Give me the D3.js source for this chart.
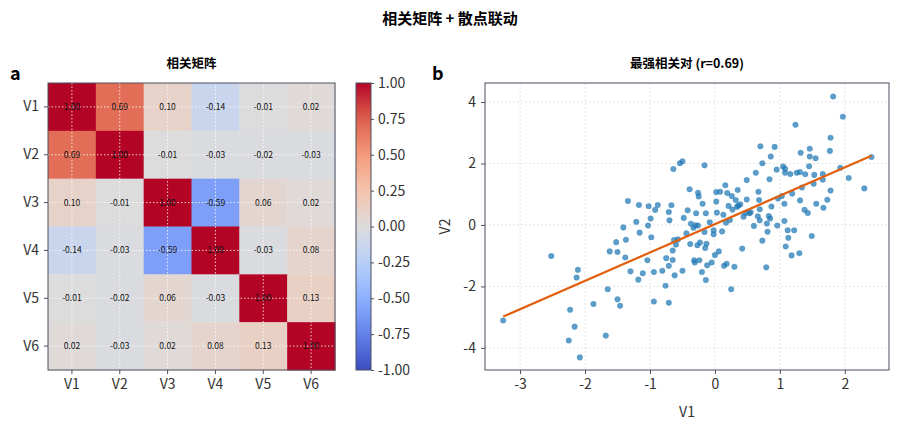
<!DOCTYPE html>
<html lang="zh">
<head>
<meta charset="utf-8">
<script src="https://d3js.org/d3.v7.min.js"></script>
<style>
  body { margin: 0; background: #fff; }
  text { font-family: "Noto Sans CJK SC", "Noto Sans", sans-serif; }
</style>
</head>
<body>
<svg id="chart" width="900" height="429"></svg>
<script>
  // correlation matrix
  var vars = ["V1", "V2", "V3", "V4", "V5", "V6"];
  var corr = [
    [1.00, 0.69, 0.10, -0.14, -0.01, 0.02],
    [0.69, 1.00, -0.01, -0.03, -0.02, -0.03],
    [0.10, -0.01, 1.00, -0.59, 0.06, 0.02],
    [-0.14, -0.03, -0.59, 1.00, -0.03, 0.08],
    [-0.01, -0.02, 0.06, -0.03, 1.00, 0.13],
    [0.02, -0.03, 0.02, 0.08, 0.13, 1.00]
  ];
  var cbarTicks = [1, 0.75, 0.5, 0.25, 0, -0.25, -0.5, -0.75, -1];

  // scatter V1 vs V2
  var v1 = [-3.26,-2.52,-2.11,-2.13,-2.23,-2.16,-2.25,-2.08,-1.87,-1.68,-1.65,-1.62,-1.52,-1.50,-1.50,-1.46,-1.41,-1.37,-1.38,-1.34,
    -1.30,-1.21,-1.18,-1.17,-1.16,-1.11,-1.04,-1.03,-1.02,-0.99,-0.98,-0.94,-0.94,-0.92,-0.88,-0.81,-0.76,-0.75,-0.71,-0.70,
    -0.71,-0.71,-0.67,-0.65,-0.65,-0.64,-0.63,-0.62,-0.60,-0.57,-0.54,-0.50,-0.50,-0.48,-0.44,-0.42,-0.39,-0.38,-0.37,-0.33,
    -0.32,-0.31,-0.29,-0.30,-0.27,-0.26,-0.26,-0.25,-0.24,-0.23,-0.20,-0.19,-0.16,-0.16,-0.15,-0.14,-0.14,-0.13,-0.12,-0.08,
    -0.05,-0.02,-0.02,0.00,0.02,0.02,0.03,0.06,0.08,0.11,0.13,0.14,0.16,0.17,0.18,0.19,0.21,0.23,0.25,0.26,
    0.27,0.30,0.32,0.34,0.35,0.36,0.39,0.42,0.44,0.47,0.49,0.49,0.53,0.55,0.60,0.63,0.66,0.67,0.68,0.69,
    0.69,0.70,0.73,0.73,0.79,0.80,0.81,0.83,0.84,0.85,0.86,0.87,0.92,0.95,0.96,0.97,1.03,1.05,1.07,1.07,
    1.08,1.09,1.08,1.12,1.13,1.16,1.18,1.19,1.22,1.24,1.26,1.30,1.31,1.31,1.32,1.34,1.38,1.39,1.43,1.45,
    1.46,1.46,1.49,1.52,1.53,1.55,1.56,1.66,1.66,1.67,1.73,1.77,1.78,1.78,1.82,1.93,1.97,2.06,2.30,2.41];
  var v2 = [-3.11,-1.01,-1.46,-1.71,-2.76,-3.31,-3.76,-4.31,-2.57,-3.60,-2.09,-0.86,-0.56,-0.88,-2.42,-2.63,-0.08,-0.48,-1.06,0.78,
    -1.51,0.10,-1.78,0.65,-0.25,-1.57,-1.15,-0.02,0.61,0.21,-0.40,-1.53,-2.49,0.49,0.65,-1.49,-1.98,-1.08,0.42,0.15,
    -1.33,-2.53,0.64,-1.14,-0.83,1.82,-0.49,-1.64,-0.64,-0.47,2.01,2.07,-1.49,0.23,-0.27,0.48,1.16,-0.62,0.04,-0.09,
    -1.15,-1.22,0.38,-0.01,-0.66,1.05,-0.02,0.93,-1.15,-0.57,-1.53,0.69,1.94,-0.23,-0.75,0.38,-1.79,-0.61,-1.31,0.09,
    -1.22,-0.17,-0.30,-0.98,0.76,1.07,0.40,-0.86,1.08,-0.21,0.33,-1.33,1.29,0.07,-1.26,1.04,0.62,0.16,-2.09,0.94,
    0.50,-1.36,0.81,0.59,1.14,0.63,0.67,-0.77,0.27,0.39,1.46,0.83,0.38,0.41,-0.03,1.70,0.28,1.08,0.81,0.51,
    0.15,2.56,2.01,-0.51,-1.38,0.05,-0.22,0.29,1.49,0.21,2.23,0.60,2.54,1.80,-0.02,0.86,0.94,1.90,0.69,0.13,
    1.83,-0.70,1.70,-0.17,-0.42,1.66,-0.99,1.02,-0.17,3.26,1.70,-0.92,1.72,0.80,2.35,1.22,0.49,1.65,0.39,1.91,
    2.48,2.23,-0.36,1.34,1.63,2.17,0.69,1.47,1.66,0.56,0.82,2.41,2.84,1.12,4.18,1.86,3.52,1.53,1.19,2.21];
  var xTicks = [-3, -2, -1, 0, 1, 2];
  var yTicks = [-4, -2, 0, 2, 4];

  var svg = d3.select("#chart");
  var ink = "#333", spine = "#4a5060";

  // matplotlib coolwarm
  var coolwarm = d3.scaleLinear()
    .domain([-1, -0.75, -0.5, -0.25, 0, 0.25, 0.5, 0.75, 1])
    .range(["#3b4cc0", "#6282ea", "#8db0fe", "#b8d0f9", "#dddcdc", "#f5c4ad", "#f49a7b", "#de604d", "#b40426"])
    .interpolate(d3.interpolateRgb);

  svg.append("text").attr("x", 450).attr("y", 24).attr("text-anchor", "middle")
    .attr("font-size", 15).attr("font-weight", "bold").text("相关矩阵 + 散点联动");

  // ---- panel a: heatmap
  var hm = { x: 48, y: 83, w: 287, h: 287 };
  var hx = d3.scaleBand().domain(vars).range([hm.x, hm.x + hm.w]);
  var hy = d3.scaleBand().domain(vars).range([hm.y, hm.y + hm.h]);
  var ga = svg.append("g");

  var cells = [];
  corr.forEach(function(row, i) { row.forEach(function(v, j) { cells.push({ r: vars[i], c: vars[j], v: v }); }); });

  ga.selectAll("rect.cell").data(cells).enter().append("rect")
    .attr("x", function(d) { return hx(d.c); }).attr("y", function(d) { return hy(d.r); })
    .attr("width", hx.bandwidth() + 0.5).attr("height", hy.bandwidth() + 0.5)
    .attr("fill", function(d) { return coolwarm(d.v); });

  // dotted grid at cell centres
  vars.forEach(function(v) {
    var cx = hx(v) + hx.bandwidth() / 2, cy = hy(v) + hy.bandwidth() / 2;
    ga.append("line").attr("x1", cx).attr("x2", cx).attr("y1", hm.y).attr("y2", hm.y + hm.h)
      .attr("stroke", "#fff").attr("stroke-dasharray", "1.5,2").attr("stroke-width", 1).attr("opacity", 0.8);
    ga.append("line").attr("y1", cy).attr("y2", cy).attr("x1", hm.x).attr("x2", hm.x + hm.w)
      .attr("stroke", "#fff").attr("stroke-dasharray", "1.5,2").attr("stroke-width", 1).attr("opacity", 0.8);
  });

  ga.selectAll("text.val").data(cells).enter().append("text")
    .attr("x", function(d) { return hx(d.c) + hx.bandwidth() / 2; })
    .attr("y", function(d) { return hy(d.r) + hy.bandwidth() / 2 + 3; })
    .attr("text-anchor", "middle").attr("font-size", 8.5).attr("fill", "#111")
    .text(function(d) { return d.v.toFixed(2); });

  ga.append("rect").attr("x", hm.x).attr("y", hm.y).attr("width", hm.w).attr("height", hm.h)
    .attr("fill", "none").attr("stroke", spine).attr("stroke-width", 1);

  var axA = ga.append("g").attr("transform", "translate(0," + (hm.y + hm.h) + ")")
    .call(d3.axisBottom(hx).tickSize(4).tickPadding(5));
  var ayA = ga.append("g").attr("transform", "translate(" + hm.x + ",0)")
    .call(d3.axisLeft(hy).tickSize(4).tickPadding(5));
  [axA, ayA].forEach(function(a) {
    a.select(".domain").remove();
    a.selectAll("line").attr("stroke", spine);
    a.selectAll("text").attr("font-size", 14).attr("fill", ink).attr("font-family", "'Noto Sans CJK SC', sans-serif");
  });

  ga.append("text").attr("x", hm.x + hm.w / 2).attr("y", 68).attr("text-anchor", "middle")
    .attr("font-size", 12.5).attr("font-weight", "bold").text("相关矩阵");
  ga.append("text").attr("x", 10).attr("y", 80).attr("font-size", 18).attr("font-weight", "bold").text("a");

  // colorbar
  var cb = { x: 356, w: 15 };
  var cy = d3.scaleLinear().domain([1, -1]).range([hm.y, hm.y + hm.h]);
  var defs = svg.append("defs");
  var grad = defs.append("linearGradient").attr("id", "cw").attr("x1", 0).attr("x2", 0).attr("y1", 1).attr("y2", 0);
  d3.range(0, 1.0001, 0.05).forEach(function(t) {
    grad.append("stop").attr("offset", t).attr("stop-color", coolwarm(t * 2 - 1));
  });
  ga.append("rect").attr("x", cb.x).attr("y", hm.y).attr("width", cb.w).attr("height", hm.h)
    .attr("fill", "url(#cw)").attr("stroke", spine);
  var cax = ga.append("g").attr("transform", "translate(" + (cb.x + cb.w) + ",0)")
    .call(d3.axisRight(cy).tickValues(cbarTicks).tickFormat(d3.format(".2f")).tickSize(3).tickPadding(4));
  cax.select(".domain").remove();
  cax.selectAll("line").attr("stroke", spine);
  cax.selectAll("text").attr("font-size", 14).attr("fill", ink).attr("font-family", "'Noto Sans CJK SC', sans-serif")
    .text(function(d) { return d3.format(".2f")(d).replace("−", "-"); });

  // ---- panel b: scatter
  var sp = { x: 485, y: 83, w: 404, h: 287 };
  var sx = d3.scaleLinear().domain([-3.54, 2.68]).range([sp.x, sp.x + sp.w]);
  var sy = d3.scaleLinear().domain([-4.72, 4.62]).range([sp.y + sp.h, sp.y]);
  var gb = svg.append("g");

  xTicks.forEach(function(t) {
    gb.append("line").attr("x1", sx(t)).attr("x2", sx(t)).attr("y1", sp.y).attr("y2", sp.y + sp.h)
      .attr("stroke", "#ddd").attr("stroke-dasharray", "2,2").attr("stroke-width", 0.8);
  });
  yTicks.forEach(function(t) {
    gb.append("line").attr("y1", sy(t)).attr("y2", sy(t)).attr("x1", sp.x).attr("x2", sp.x + sp.w)
      .attr("stroke", "#ddd").attr("stroke-dasharray", "2,2").attr("stroke-width", 0.8);
  });

  var pts = v1.map(function(x, i) { return [x, v2[i]]; });
  gb.selectAll("circle").data(pts).enter().append("circle")
    .attr("cx", function(d) { return sx(d[0]); }).attr("cy", function(d) { return sy(d[1]); })
    .attr("r", 2.8).attr("fill", "#1f77b4").attr("fill-opacity", 0.72)
    .attr("stroke", "#1f77b4").attr("stroke-opacity", 0.5).attr("stroke-width", 0.5);

  // least-squares fit
  var mx = d3.mean(v1), my = d3.mean(v2);
  var slope = d3.sum(pts, function(d) { return (d[0] - mx) * (d[1] - my); }) /
              d3.sum(pts, function(d) { return (d[0] - mx) * (d[0] - mx); });
  var icpt = my - slope * mx;
  var ext = d3.extent(v1);
  gb.append("line").attr("x1", sx(ext[0])).attr("y1", sy(icpt + slope * ext[0]))
    .attr("x2", sx(ext[1])).attr("y2", sy(icpt + slope * ext[1]))
    .attr("stroke", "#e0600f").attr("stroke-width", 2.2);

  gb.append("rect").attr("x", sp.x).attr("y", sp.y).attr("width", sp.w).attr("height", sp.h)
    .attr("fill", "none").attr("stroke", spine).attr("stroke-width", 1);

  var axB = gb.append("g").attr("transform", "translate(0," + (sp.y + sp.h) + ")")
    .call(d3.axisBottom(sx).tickValues(xTicks).tickFormat(d3.format("d")).tickSize(4).tickPadding(5));
  var ayB = gb.append("g").attr("transform", "translate(" + sp.x + ",0)")
    .call(d3.axisLeft(sy).tickValues(yTicks).tickFormat(d3.format("d")).tickSize(4).tickPadding(5));
  [axB, ayB].forEach(function(a) {
    a.select(".domain").remove();
    a.selectAll("line").attr("stroke", spine);
    a.selectAll("text").attr("font-size", 14).attr("fill", ink).attr("font-family", "'Noto Sans CJK SC', sans-serif")
      .text(function(d) { return String(d); });
  });

  gb.append("text").attr("x", sp.x + sp.w / 2).attr("y", 417).attr("text-anchor", "middle")
    .attr("font-size", 14).attr("fill", ink).text("V1");
  gb.append("text").attr("transform", "translate(450," + (sp.y + sp.h / 2) + ") rotate(-90)")
    .attr("text-anchor", "middle").attr("font-size", 14).attr("fill", ink).text("V2");
  gb.append("text").attr("x", sp.x + sp.w / 2).attr("y", 68).attr("text-anchor", "middle")
    .attr("font-size", 12.5).attr("font-weight", "bold").text("最强相关对 (r=0.69)");
  gb.append("text").attr("x", 432).attr("y", 80).attr("font-size", 18).attr("font-weight", "bold").text("b");
</script>
</body>
</html>
